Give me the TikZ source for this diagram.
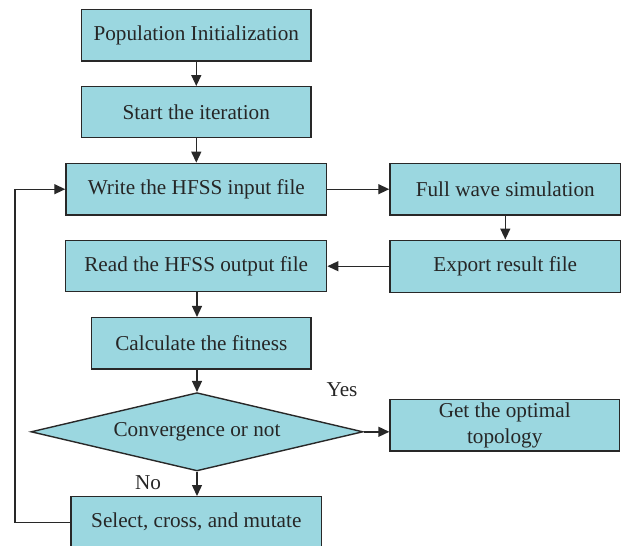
\documentclass[tikz,border=0pt]{standalone}
\usepackage{fontspec}
\setmainfont{Liberation Serif}
\usetikzlibrary{shapes.geometric,arrows.meta}
\definecolor{boxfill}{RGB}{155,215,224}
\definecolor{edgec}{RGB}{40,40,40}
\begin{document}
\begin{tikzpicture}[x=1pt,y=-1pt,
  box/.style={draw=edgec, line width=1.4pt, fill=boxfill, inner sep=0pt, align=center,
    font=\fontsize{21.2}{25.5}\selectfont, text=black!85},
  dec/.style={diamond, aspect=4.24, draw=edgec, line width=1.4pt, fill=boxfill, inner sep=0pt,
    font=\fontsize{21.2}{25.5}\selectfont, text=black!85},
  arr/.style={draw=edgec, line width=1.4pt, -{Triangle[length=11pt,width=10pt]}},
  lbl/.style={font=\fontsize{21.2}{25.5}\selectfont, text=black!85, inner sep=0pt}]
\useasboundingbox (0,0) rectangle (627,546);
\clip (0,0) rectangle (627,546);
\node[box, minimum width=229.3pt, minimum height=51.7pt] (pop) at (196.3,35.2) {Population Initialization};
\node[box, minimum width=229.3pt, minimum height=51pt] (start) at (196.3,112.2) {Start the iteration};
\node[box, minimum width=260.7pt, minimum height=51.7pt] (write) at (196.3,189.2) {Write the HFSS input file};
\node[box, minimum width=230.7pt, minimum height=51.7pt] (full) at (505.3,189.2) {Full wave simulation};
\node[box, minimum width=261pt, minimum height=51pt] (read) at (196.2,266.2) {Read the HFSS output file};
\node[box, minimum width=230.7pt, minimum height=52pt] (export) at (505.3,266.2) {Export result file};
\node[box, minimum width=219.3pt, minimum height=51.3pt] (calc) at (201.3,343.3) {Calculate the fitness};
\node[dec, minimum width=332pt, minimum height=78.3pt] (conv) at (197,431.8) {Convergence or not};
\node[box, minimum width=229.3pt, minimum height=51.7pt] (opt) at (504.7,425.2) {Get the optimal\\topology};
\node[box, minimum width=250.7pt, minimum height=51pt] (sel) at (196.3,522.2) {Select, cross, and mutate};
\node[lbl] (yes) at (342,390) {Yes};
\node[lbl] (no) at (148,483) {No};
\coordinate (lb) at (15,522.2);
\coordinate (lt) at (15,189.2);
\draw[arr] (pop) -- (start);
\draw[arr] (start) -- (write);
\draw[arr] (write) -- (full);
\draw[arr] (full) -- (export);
\draw[arr] (export) -- (read);
\draw[arr] (read.south -| conv.north) -- (calc.north -| conv.north);
\draw[arr] (calc.south -| conv.north) -- (conv.north);
\draw[arr] (conv.east) -- (opt.west |- conv.east);
\draw[arr] (conv.south) -- (sel.north -| conv.south);
\draw[arr] (sel.west) -- (lb) -- (lt) -- (write.west);
\end{tikzpicture}
\end{document}
